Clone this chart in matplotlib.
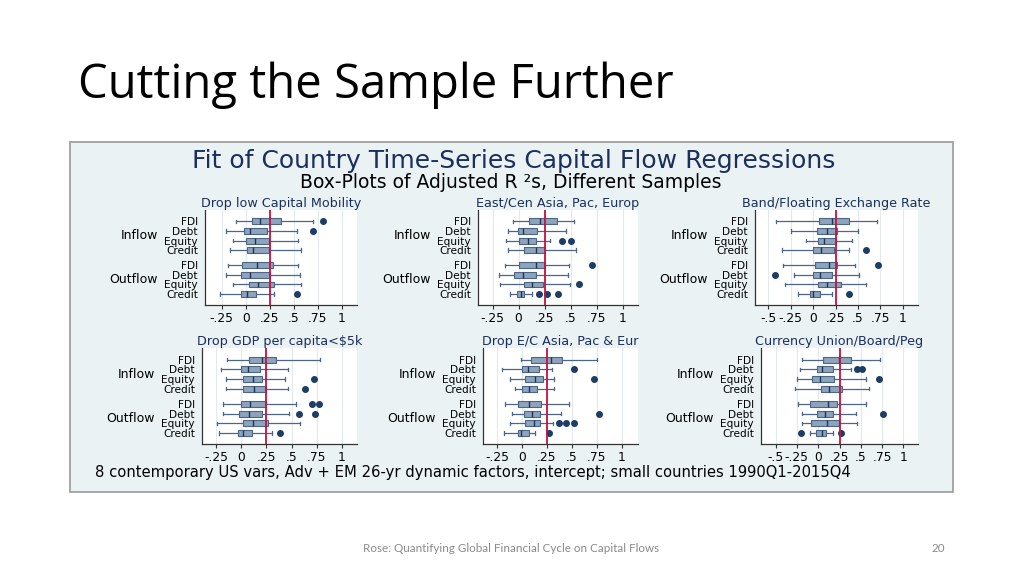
import matplotlib.pyplot as plt
import matplotlib.transforms as mtransforms
from matplotlib.patches import Rectangle

plt.rcParams['font.family'] = ['DejaVu Sans']

# Data: box stats
# order: Inflow FDI, Debt, Equity, Credit, Outflow FDI, Debt, Equity, Credit
flows = ['Inflow', 'Outflow']
series = ['FDI', 'Debt', 'Equity', 'Credit']

titles = ['Drop low Capital Mobility', 'East/Cen Asia, Pac, Europ',
          'Band/Floating Exchange Rate', 'Drop GDP per capita<$5k',
          'Drop E/C Asia, Pac & Eur', 'Currency Union/Board/Peg']

lo = [[-0.10, -0.205, -0.135, -0.16, -0.18, -0.20, -0.135, -0.27],
      [-0.05, -0.10, -0.12, -0.10, -0.13, -0.19, -0.175, -0.08],
      [-0.41, -0.245, -0.08, -0.35, -0.34, -0.215, -0.31, -0.17],
      [-0.14, -0.20, -0.155, -0.15, -0.185, -0.185, -0.245, -0.22],
      [-0.013, -0.205, -0.125, -0.075, -0.175, -0.105, -0.125, -0.18],
      [-0.185, -0.21, -0.25, -0.27, -0.235, -0.19, -0.185, -0.09]]
q1 = [[0.07, -0.02, 0.007, 0.01, -0.035, -0.045, 0.03, -0.05],
      [0.10, -0.005, 0.003, 0.055, 0.0, -0.04, 0.055, -0.013],
      [0.06, 0.04, 0.05, 0.0, 0.025, 0.0, 0.055, -0.035],
      [0.08, 0.0, 0.02, 0.013, -0.007, -0.02, 0.02, -0.035],
      [0.09, 0.0, 0.027, 0.0, -0.045, 0.015, 0.033, -0.04],
      [0.06, -0.015, -0.07, 0.035, -0.09, -0.015, -0.08, -0.023]]
med = [[0.15, 0.05, 0.10, 0.08, 0.115, 0.05, 0.13, 0.01],
       [0.21, 0.04, 0.09, 0.165, 0.165, 0.04, 0.13, 0.022],
       [0.215, 0.15, 0.125, 0.09, 0.175, 0.08, 0.15, 0.0],
       [0.21, 0.07, 0.115, 0.13, 0.09, 0.075, 0.12, 0.013],
       [0.285, 0.055, 0.125, 0.065, 0.07, 0.10, 0.12, -0.013],
       [0.245, 0.04, 0.023, 0.125, 0.12, 0.085, 0.10, 0.04]]
q3 = [[0.37, 0.225, 0.24, 0.245, 0.28, 0.25, 0.30, 0.11],
      [0.365, 0.18, 0.165, 0.25, 0.25, 0.17, 0.235, 0.055],
      [0.40, 0.26, 0.25, 0.23, 0.27, 0.215, 0.305, 0.075],
      [0.345, 0.19, 0.205, 0.245, 0.245, 0.21, 0.265, 0.105],
      [0.40, 0.17, 0.21, 0.145, 0.19, 0.18, 0.175, 0.065],
      [0.38, 0.17, 0.19, 0.28, 0.225, 0.175, 0.245, 0.095]]
hi = [[0.70, 0.53, 0.55, 0.58, 0.55, 0.57, 0.58, 0.30],
      [0.535, 0.46, 0.305, 0.555, 0.48, 0.47, 0.495, 0.13],
      [0.715, 0.495, 0.43, 0.395, 0.465, 0.515, 0.59, 0.21],
      [0.78, 0.46, 0.43, 0.465, 0.545, 0.47, 0.58, 0.31],
      [0.745, 0.295, 0.315, 0.32, 0.465, 0.385, 0.31, 0.13],
      [0.73, 0.38, 0.555, 0.59, 0.56, 0.44, 0.455, 0.17]]
outl = [[[0.81], [0.70], [], [], [], [], [], [0.53]],
        [[], [], [0.42, 0.50], [], [0.705], [], [0.58], [0.195, 0.27, 0.38]],
        [[], [], [], [0.585], [0.725], [-0.43], [], [0.40]],
        [[], [], [0.72], [0.63], [0.70, 0.77], [0.57, 0.73], [], [0.385]],
        [[], [0.515], [0.72], [], [], [0.765], [0.365, 0.435, 0.515], [0.265]],
        [[], [0.45, 0.51], [0.71], [], [], [0.76], [], [-0.20, 0.265]]]

ticks_a = [-0.25, 0, 0.25, 0.5, 0.75, 1]
ticklabels_a = ['-.25', '0', '.25', '.5', '.75', '1']
ticks_b = [-0.5, -0.25, 0, 0.25, 0.5, 0.75, 1]
ticklabels_b = ['-.5', '-.25', '0', '.25', '.5', '.75', '1']
refline = 0.25

main_title = 'Fit of Country Time-Series Capital Flow Regressions'
sub_title = 'Box-Plots of Adjusted R ²s, Different Samples'
note = ('8 contemporary US vars, Adv + EM 26-yr dynamic factors, intercept; '
        'small countries 1990Q1-2015Q4')

# Layout (pixels: left, top, right, bottom) and x ranges
W, H = 1024, 575
boxes_px = [(205, 210, 357, 305), (478, 210, 638, 305), (755, 210, 918, 305),
            (202, 348, 357, 444), (483, 348, 638, 444), (761, 348, 918, 444)]
xlims = [(-0.424, 1.16), (-0.39, 1.147), (-0.65, 1.17),
         (-0.39, 1.15), (-0.39, 1.16), (-0.67, 1.17)]
ypos = [0, 1, 2, 3, 4.6, 5.6, 6.6, 7.6]

navy = '#1c2f5c'
boxfill = '#8ea4bd'
boxedge = '#4d6685'
dot = '#1d3d66'
bg = '#eaf2f3'

fig = plt.figure(figsize=(W / 100, H / 100), dpi=100)
fig.patch.set_facecolor('white')

# slide text
fig.text(78 / W, 1 - 85 / H, 'Cutting the Sample Further', fontsize=34,
         family='Open Sans', va='center', ha='left', color='black')
fig.text(511 / W, 1 - 548 / H,
         'Rose: Quantifying Global Financial Cycle on Capital Flows',
         fontsize=8.4, family='Lato', color='#8a8a8a', ha='center', va='center')
fig.text(938 / W, 1 - 548 / H, '20', fontsize=8.4, family='Lato',
         color='#8a8a8a', ha='center', va='center')

# chart frame, behind the panels
fig.patches.append(Rectangle((70 / W, 1 - 492 / H), 883 / W, 350 / H,
                             transform=fig.transFigure, facecolor=bg,
                             edgecolor='#9a9a9a', lw=1.2, zorder=-10))

fig.text(514 / W, 1 - 161 / H, main_title, fontsize=18, color=navy,
         ha='center', va='center')
fig.text(511 / W, 1 - 182 / H, sub_title, fontsize=13.5, color='black',
         ha='center', va='center')
fig.text(95 / W, 1 - 472 / H, note, fontsize=10.6, color='black',
         ha='left', va='center')

for i in range(6):
    l, t, r, b = boxes_px[i]
    ax = fig.add_axes([l / W, 1 - b / H, (r - l) / W, (b - t) / H])
    ax.set_facecolor('white')
    stats = []
    for k in range(8):
        stats.append(dict(whislo=lo[i][k], q1=q1[i][k], med=med[i][k],
                          q3=q3[i][k], whishi=hi[i][k], fliers=outl[i][k]))
    ticks = ticks_b if i in (2, 5) else ticks_a
    labels = ticklabels_b if i in (2, 5) else ticklabels_a
    for x in ticks:
        ax.axvline(x, color='#e3eaee', lw=0.8, zorder=0)
    ax.bxp(stats, positions=ypos, orientation='horizontal', widths=0.62,
           capwidths=0.35, patch_artist=True,
           boxprops=dict(facecolor=boxfill, edgecolor=boxedge, lw=0.8),
           medianprops=dict(color='#1f3553', lw=1.0),
           whiskerprops=dict(color=boxedge, lw=0.9),
           capprops=dict(color=boxedge, lw=0.9),
           flierprops=dict(marker='o', markerfacecolor=dot,
                           markeredgecolor=dot, markersize=4))
    ax.axvline(refline, color='#c4123f', lw=1.3, zorder=5)
    ax.set_xlim(*xlims[i])
    ax.set_ylim(8.75, -1.2)
    ax.set_xticks(ticks, labels)
    ax.set_yticks(ypos, series * 2)
    ax.tick_params(axis='y', length=0, pad=5, labelsize=7.6)
    ax.tick_params(axis='x', length=3, width=0.8, pad=2, labelsize=8.8,
                   color='#333333')
    for s in ['top', 'right']:
        ax.spines[s].set_visible(False)
    for s in ['left', 'bottom']:
        ax.spines[s].set_color('#333333')
        ax.spines[s].set_linewidth(0.9)
    ax.set_title(titles[i], fontsize=9.2, color=navy, pad=1.5)
    tr = mtransforms.offset_copy(ax.get_yaxis_transform(), fig=fig,
                                 x=-47, y=0, units='dots')
    ax.text(0, 1.5, flows[0], transform=tr, ha='right', va='center',
            fontsize=9)
    ax.text(0, 6.1, flows[1], transform=tr, ha='right', va='center',
            fontsize=9)

fig.savefig('out.png', dpi=100)
